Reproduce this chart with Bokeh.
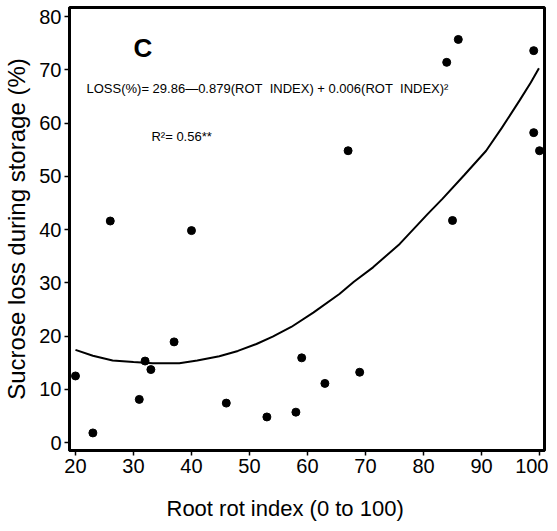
from bokeh.plotting import figure
from bokeh.models import Range1d, Label, Title
from bokeh.embed import file_html
from bokeh.resources import INLINE

# observed data
rot_index = [20, 23, 26, 31, 32, 33, 37, 40, 46, 53, 58, 59, 63, 67, 69, 84, 85, 86, 99, 99, 100]
sucrose_loss = [12.5, 1.8, 41.6, 8.1, 15.3, 13.7, 18.9, 39.8, 7.4, 4.8, 5.7, 15.9, 11.1, 54.8, 13.2,
                71.4, 41.7, 75.7, 73.6, 58.2, 54.8]

# fitted curve
curve_x = [20, 23, 26.4, 30, 33.3, 37.9, 41, 44.8, 48, 51.2, 54, 57.2, 61, 65.5, 68,
           71.3, 75.9, 80.7, 83.3, 87, 90.8, 93.5, 96.6, 98.5, 99.9]
curve_y = [17.4, 16.3, 15.4, 15.1, 14.9, 14.9, 15.4, 16.2, 17.2, 18.5, 19.9, 21.7, 24.4, 27.9, 30.2,
           32.9, 37.3, 42.9, 45.8, 50.2, 54.8, 59.1, 64.3, 67.6, 70.3]

x_ticks = [20, 30, 40, 50, 60, 70, 80, 90, 100]
y_ticks = [0, 10, 20, 30, 40, 50, 60, 70, 80]

FONT = "Liberation Sans"

p = figure(frame_width=475, frame_height=443,
           min_border_left=62, min_border_right=4, min_border_top=7, min_border_bottom=20,
           x_range=Range1d(18.97, 100.86), y_range=Range1d(-1.5, 81.7),
           output_backend="svg", toolbar_location=None)

p.background_fill_color = "white"
p.border_fill_color = "white"
p.xgrid.visible = False
p.ygrid.visible = False
p.outline_line_color = "black"
p.outline_line_width = 3

for ax in (p.xaxis[0], p.yaxis[0]):
    ax.axis_line_width = 3
    ax.axis_line_color = "black"
    ax.major_tick_in = 0
    ax.major_tick_out = 5
    ax.minor_tick_in = 0
    ax.minor_tick_out = 3
    ax.major_tick_line_width = 1.5
    ax.minor_tick_line_width = 1
    ax.major_label_text_font = FONT
    ax.major_label_text_font_size = "20px"
    ax.major_label_text_color = "black"
    ax.major_label_standoff = 3

p.xaxis.ticker = x_ticks
p.yaxis.ticker = y_ticks
p.xaxis[0].ticker.num_minor_ticks = 10
p.yaxis[0].ticker.num_minor_ticks = 5

p.yaxis.axis_label = "Sucrose loss during storage (%)"
p.yaxis.axis_label_text_font = FONT
p.yaxis.axis_label_text_font_size = "24px"
p.yaxis.axis_label_text_font_style = "normal"
p.yaxis.axis_label_text_color = "black"
p.yaxis.axis_label_standoff = 6

p.add_layout(Title(text="Root rot index (0 to 100)", align="left", offset=97,
                   text_font=FONT, text_font_size="22px", text_font_style="normal",
                   text_color="black", standoff=37), "below")

p.line(curve_x, curve_y, line_color="black", line_width=2)
p.scatter(rot_index, sucrose_loss, size=8, color="black")

p.add_layout(Label(x=30.0, y=74.0, text="C", text_font=FONT, text_font_size="26px",
                   text_font_style="bold", text_baseline="middle", text_color="black"))
p.add_layout(Label(x=21.9, y=66.5,
                   text="LOSS(%)= 29.86\u20140.879(ROT\u00a0\u00a0INDEX)\u00a0+\u00a00.006(ROT\u00a0\u00a0INDEX)\u00b2",
                   text_font=FONT, text_font_size="13px", text_baseline="middle",
                   text_color="black"))
p.add_layout(Label(x=33.1, y=57.5, text="R\u00b2= 0.56**", text_font=FONT,
                   text_font_size="13px", text_baseline="middle", text_color="black"))

open("out.html", "w").write(file_html(p, INLINE))
